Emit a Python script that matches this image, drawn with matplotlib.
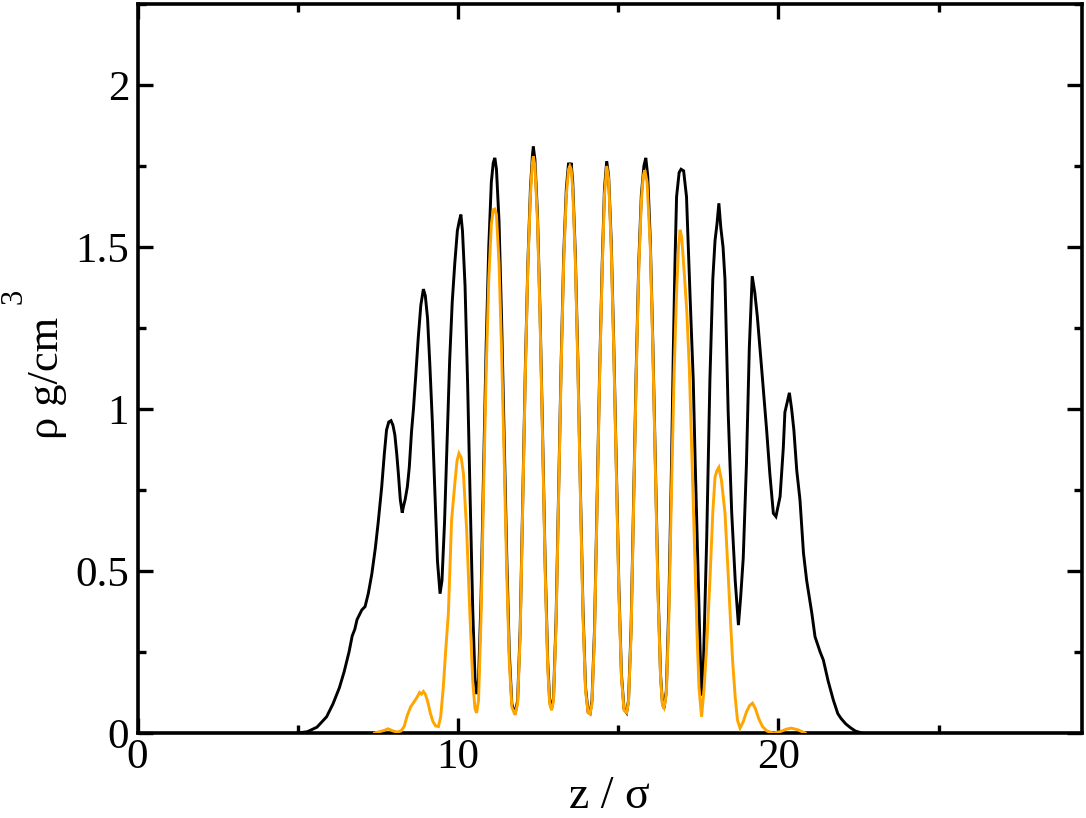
import matplotlib
matplotlib.use("Agg")
import matplotlib.pyplot as plt
from matplotlib.ticker import MultipleLocator, FuncFormatter

# ---- data ----
z_total = [5.0, 5.3, 5.6, 5.9, 6.1, 6.3, 6.45, 6.6, 6.7, 6.78, 6.85, 7.0, 7.1, 7.2, 7.31, 7.42, 7.51, 7.62,
           7.70, 7.77, 7.84, 7.91, 7.97, 8.03, 8.09, 8.14, 8.2, 8.26, 8.3, 8.35, 8.42, 8.48, 8.55, 8.61,
           8.68, 8.76, 8.84, 8.92, 8.98, 9.05, 9.12, 9.2, 9.28, 9.36, 9.44, 9.50, 9.58, 9.66, 9.74, 9.82,
           9.90, 9.98, 10.04, 10.09, 10.14, 10.22, 10.30, 10.38, 10.46, 10.53, 10.58, 10.64, 10.72, 10.80,
           10.88, 10.96, 11.04, 11.10, 11.15, 11.20, 11.28, 11.36, 11.44, 11.52, 11.60, 11.68, 11.78, 11.86,
           11.94, 12.02, 12.10, 12.18, 12.26, 12.32, 12.35, 12.40, 12.48, 12.56, 12.64, 12.72, 12.80, 12.86,
           12.92, 12.98, 13.06, 13.14, 13.22, 13.30, 13.38, 13.45, 13.49, 13.53, 13.58, 13.66, 13.74, 13.82,
           13.90, 13.98, 14.06, 14.12, 14.18, 14.26, 14.34, 14.42, 14.50, 14.57, 14.64, 14.70, 14.78, 14.86,
           14.94, 15.02, 15.10, 15.18, 15.26, 15.32, 15.40, 15.48, 15.56, 15.64, 15.72, 15.80, 15.86, 15.92,
           16.00, 16.08, 16.16, 16.24, 16.32, 16.38, 16.43, 16.50, 16.58, 16.66, 16.72, 16.77, 16.82, 16.90,
           16.96, 17.04, 17.13, 17.24, 17.34, 17.40, 17.47, 17.55, 17.60, 17.66, 17.76, 17.86, 17.95, 18.02,
           18.08, 18.14, 18.20, 18.27, 18.33, 18.43, 18.54, 18.65, 18.75, 18.82, 18.90, 19.00, 19.09, 19.18,
           19.26, 19.34, 19.47, 19.63, 19.73, 19.84, 19.92, 20.05, 20.15, 20.20, 20.27, 20.34, 20.41, 20.48,
           20.57, 20.67, 20.78, 20.88, 21.04, 21.14, 21.30, 21.40, 21.55, 21.71, 21.85, 21.95, 22.10, 22.25,
           22.40, 22.60]
rho_total = [0.0, 0.004, 0.018, 0.05, 0.09, 0.14, 0.19, 0.25, 0.30, 0.32, 0.35, 0.38, 0.39, 0.43, 0.49, 0.57,
             0.65, 0.76, 0.86, 0.935, 0.96, 0.964, 0.95, 0.92, 0.86, 0.80, 0.72, 0.68, 0.70, 0.72, 0.76, 0.82,
             0.93, 1.0, 1.10, 1.22, 1.32, 1.37, 1.35, 1.28, 1.14, 0.96, 0.74, 0.53, 0.43, 0.47, 0.65, 0.90,
             1.15, 1.33, 1.45, 1.55, 1.58, 1.60, 1.55, 1.38, 1.08, 0.72, 0.38, 0.17, 0.12, 0.16, 0.42, 0.82,
             1.20, 1.50, 1.70, 1.76, 1.775, 1.74, 1.58, 1.28, 0.92, 0.55, 0.25, 0.09, 0.058, 0.10, 0.32, 0.72,
             1.12, 1.45, 1.68, 1.78, 1.81, 1.77, 1.60, 1.30, 0.92, 0.52, 0.22, 0.10, 0.075, 0.11, 0.35, 0.75,
             1.15, 1.48, 1.68, 1.76, 1.74, 1.76, 1.70, 1.48, 1.15, 0.75, 0.38, 0.14, 0.065, 0.06, 0.10, 0.32,
             0.72, 1.12, 1.45, 1.68, 1.765, 1.72, 1.52, 1.20, 0.82, 0.45, 0.18, 0.075, 0.063, 0.10, 0.32, 0.72,
             1.12, 1.45, 1.66, 1.75, 1.775, 1.72, 1.52, 1.20, 0.82, 0.45, 0.18, 0.09, 0.077, 0.13, 0.40, 0.82,
             1.19, 1.45, 1.655, 1.73, 1.74, 1.735, 1.655, 1.35, 1.09, 0.84, 0.575, 0.27, 0.115, 0.22, 0.60,
             1.09, 1.40, 1.52, 1.57, 1.635, 1.56, 1.50, 1.40, 0.99, 0.68, 0.47, 0.333, 0.42, 0.54, 0.83, 1.19,
             1.41, 1.36, 1.285, 1.13, 0.935, 0.80, 0.678, 0.668, 0.73, 0.88, 0.99, 1.02, 1.05, 1.00, 0.935,
             0.81, 0.72, 0.555, 0.47, 0.37, 0.297, 0.25, 0.225, 0.16, 0.102, 0.06, 0.045, 0.028, 0.016, 0.006,
             0.0]

z_inner = [7.40, 7.55, 7.70, 7.82, 7.95, 8.10, 8.22, 8.32, 8.42, 8.52, 8.62, 8.72, 8.80, 8.86, 8.92, 8.98,
           9.06, 9.14, 9.22, 9.30, 9.39, 9.46, 9.54, 9.62, 9.70, 9.80, 9.91, 9.97, 10.03, 10.10, 10.17, 10.27,
           10.37, 10.46, 10.53, 10.58, 10.64, 10.72, 10.80, 10.88, 10.96, 11.04, 11.10, 11.15, 11.20, 11.28,
           11.36, 11.44, 11.52, 11.60, 11.68, 11.78, 11.86, 11.94, 12.02, 12.10, 12.18, 12.26, 12.32, 12.35,
           12.40, 12.48, 12.56, 12.64, 12.72, 12.80, 12.86, 12.92, 12.98, 13.06, 13.14, 13.22, 13.30, 13.38,
           13.45, 13.49, 13.53, 13.58, 13.66, 13.74, 13.82, 13.90, 13.98, 14.06, 14.12, 14.18, 14.26, 14.34,
           14.42, 14.50, 14.57, 14.64, 14.70, 14.78, 14.86, 14.94, 15.02, 15.10, 15.18, 15.26, 15.32, 15.40,
           15.48, 15.56, 15.64, 15.72, 15.78, 15.83, 15.90, 16.00, 16.08, 16.16, 16.24, 16.32, 16.38, 16.43,
           16.50, 16.58, 16.66, 16.74, 16.82, 16.88, 16.93, 16.98, 17.06, 17.14, 17.22, 17.30, 17.38, 17.46,
           17.52, 17.60, 17.68, 17.76, 17.86, 17.95, 18.02, 18.08, 18.14, 18.22, 18.33, 18.41, 18.49, 18.57,
           18.65, 18.72, 18.80, 18.90, 19.00, 19.10, 19.19, 19.28, 19.38, 19.50, 19.64, 19.84, 20.05, 20.25,
           20.40, 20.60, 20.83]
rho_inner = [0.0, 0.004, 0.008, 0.013, 0.007, 0.003, 0.006, 0.02, 0.055, 0.08, 0.095, 0.11, 0.125, 0.12,
             0.128, 0.12, 0.095, 0.06, 0.035, 0.022, 0.02, 0.05, 0.14, 0.26, 0.37, 0.657, 0.78, 0.84, 0.863,
             0.85, 0.80, 0.627, 0.37, 0.16, 0.075, 0.062, 0.10, 0.36, 0.76, 1.12, 1.40, 1.57, 1.615, 1.617,
             1.60, 1.45, 1.18, 0.85, 0.50, 0.22, 0.08, 0.056, 0.09, 0.30, 0.70, 1.10, 1.44, 1.66, 1.76, 1.78,
             1.75, 1.58, 1.28, 0.90, 0.50, 0.20, 0.09, 0.07, 0.10, 0.33, 0.73, 1.13, 1.46, 1.66, 1.74, 1.75,
             1.74, 1.68, 1.46, 1.13, 0.73, 0.36, 0.13, 0.062, 0.059, 0.09, 0.30, 0.70, 1.10, 1.43, 1.66, 1.75,
             1.71, 1.50, 1.18, 0.80, 0.43, 0.17, 0.07, 0.063, 0.095, 0.30, 0.70, 1.10, 1.43, 1.64, 1.72, 1.737,
             1.70, 1.50, 1.18, 0.80, 0.43, 0.17, 0.085, 0.077, 0.12, 0.36, 0.74, 1.10, 1.36, 1.50, 1.553, 1.53,
             1.42, 1.30, 1.12, 0.85, 0.58, 0.30, 0.14, 0.05, 0.14, 0.27, 0.47, 0.68, 0.79, 0.81, 0.82, 0.78,
             0.68, 0.53, 0.37, 0.22, 0.11, 0.04, 0.015, 0.035, 0.065, 0.085, 0.092, 0.075, 0.045, 0.02, 0.006,
             0.0, 0.004, 0.012, 0.015, 0.01, 0.0]

x_major = [0, 10, 20]
y_major = [0, 0.5, 1, 1.5, 2]
x_label = "z / σ"
y_label = "ρ g/cm"
y_label_sup = "3"

# ---- figure ----
plt.rcParams['font.family'] = ['Liberation Serif', 'DejaVu Serif']
fig = plt.figure(figsize=(10.86, 8.18), dpi=100)
ax = fig.add_axes([137.5 / 1086, 1 - 733 / 818, (1082 - 137.5) / 1086, (733 - 4) / 818])

ax.plot(z_total, rho_total, color='black', lw=2.1, solid_joinstyle='miter', zorder=3)
ax.plot(z_inner, rho_inner, color='#FFA500', lw=2.1, solid_joinstyle='miter', zorder=4)

ax.set_xlim(0, 29.47)
ax.set_ylim(0, 2.25)
ax.set_xticks(x_major)
ax.set_yticks(y_major)
ax.xaxis.set_minor_locator(MultipleLocator(5))
ax.yaxis.set_minor_locator(MultipleLocator(0.25))
ax.yaxis.set_major_formatter(FuncFormatter(lambda v, p: ('%g' % v)))
ax.xaxis.set_major_formatter(FuncFormatter(lambda v, p: ('%g' % v)))

for s in ax.spines.values():
    s.set_linewidth(2.6)
ax.tick_params(which='both', direction='in', top=True, right=True, width=2.4, labelsize=31)
ax.tick_params(which='major', length=11)
ax.tick_params(which='minor', length=5.5)
ax.tick_params(axis='x', which='major', pad=4)
ax.tick_params(axis='y', which='major', pad=6)

ax.set_xlabel(x_label, fontsize=33)
ax.xaxis.set_label_coords(0.5, (733 - 808) / (733 - 4))
ax.xaxis.label.set_va('baseline')

fig.text(47 / 1086, 1 - 378 / 818, y_label, rotation=90, fontsize=32, ha='center', va='center')
fig.text(14 / 1086, 1 - 296 / 818, y_label_sup, rotation=90, fontsize=22, ha='center', va='center')

fig.savefig('out.png', dpi=100)
